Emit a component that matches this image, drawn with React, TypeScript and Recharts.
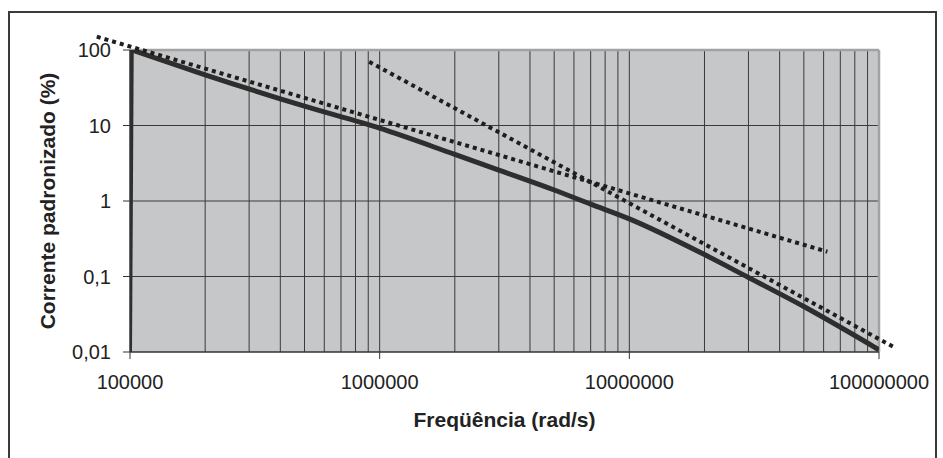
import {
  LineChart,
  Line,
  XAxis,
  YAxis,
  CartesianGrid,
  ReferenceLine,
} from 'recharts'

// Measured curve (solid): steep rise at the start, then the decay
const riseFreq = [100000, 101600]
const riseCurrent = [0.01, 100]
const freq = [
  101600, 200000, 500000, 1000000, 2000000, 3000000, 5000000, 7000000,
  10000000, 20000000, 30000000, 50000000, 100000000,
]
const current = [100, 47, 18, 9.2, 4.14, 2.57, 1.4, 0.91, 0.58, 0.195, 0.097, 0.04, 0.0107]

// Asymptotes (dotted), [start, end]
const asymA_x = [73600, 62100000]
const asymA_y = [150, 0.213]
const asymB_x = [908000, 117000000]
const asymB_y = [69.9, 0.0112]

const xTicks = [100000, 1000000, 10000000, 100000000]
const yTicks = [0.01, 0.1, 1, 10, 100]
const xGrid = [
  200000, 300000, 400000, 500000, 600000, 700000, 800000, 900000,
  1000000, 2000000, 3000000, 4000000, 5000000, 6000000, 7000000, 8000000, 9000000,
  10000000, 20000000, 30000000, 40000000, 50000000, 60000000, 70000000, 80000000, 90000000,
]
const yGrid = [0.1, 1, 10]

const xTitle = 'Freqüência (rad/s)'
const yTitle = 'Corrente padronizado (%)'

const riseData = riseFreq.map((x, i) => ({ x, y: riseCurrent[i] }))
const chartData = freq.map((x, i) => ({ x, y: current[i] }))

const FONT = '"Liberation Sans", Arial, sans-serif'
const TEXT = '#222'
const GRID = '#3a3a3a'
const CURVE = '#2e2e2e'

function XTitle({ viewBox }: any) {
  const cx = viewBox.x + viewBox.width / 2
  return (
    <text x={cx} y={viewBox.y + 75} textAnchor="middle" fontFamily={FONT} fontSize={21} fontWeight="bold" fill={TEXT}>
      {xTitle}
    </text>
  )
}

function YTitle({ viewBox }: any) {
  const cx = viewBox.x + 47
  const cy = viewBox.y + viewBox.height / 2
  return (
    <text
      x={cx}
      y={cy}
      dy="0.36em"
      transform={`rotate(-90, ${cx}, ${cy})`}
      textAnchor="middle"
      fontFamily={FONT}
      fontSize={21}
      fontWeight="bold"
      fill={TEXT}
    >
      {yTitle}
    </text>
  )
}

export default function App() {
  return (
    <div style={{ position: 'absolute', left: 0, top: 0, width: 943, height: 458, background: '#fff', overflow: 'hidden' }}>
      <div
        style={{
          position: 'absolute',
          left: 8,
          top: 11,
          width: 925,
          height: 470,
          border: '2px solid #3a3a3a',
        }}
      />
      <LineChart
        width={943}
        height={458}
        margin={{ top: 50, right: 64, bottom: 16, left: 0 }}
        style={{ position: 'absolute', left: 0, top: 0 }}
      >
        <CartesianGrid fill="#c6c7c9" fillOpacity={1} stroke="none" horizontal={false} vertical={false} />
        {xGrid.map((v) => (
          <ReferenceLine key={`vx${v}`} x={v} stroke={GRID} strokeWidth={1} />
        ))}
        {yGrid.map((v) => (
          <ReferenceLine key={`hy${v}`} y={v} stroke={GRID} strokeWidth={1} />
        ))}
        <XAxis
          type="number"
          dataKey="x"
          scale="log"
          domain={[100000, 100000000]}
          allowDataOverflow
          ticks={xTicks}
          tickFormatter={(v: number) => String(v)}
          height={90}
          tickSize={7}
          tickMargin={16}
          axisLine={{ stroke: '#333', strokeWidth: 1.5 }}
          tickLine={{ stroke: '#333' }}
          tick={{ fontFamily: FONT, fontSize: 20, fill: TEXT }}
          label={<XTitle />}
        />
        <YAxis
          type="number"
          dataKey="y"
          scale="log"
          domain={[0.01, 100]}
          allowDataOverflow
          ticks={yTicks}
          tickFormatter={(v: number) => String(v).replace('.', ',')}
          width={130}
          tickSize={7}
          tickMargin={12}
          axisLine={{ stroke: '#333', strokeWidth: 1.5 }}
          tickLine={{ stroke: '#333' }}
          tick={{ fontFamily: FONT, fontSize: 20, fill: TEXT }}
          label={<YTitle />}
        />
        <ReferenceLine y={100} stroke="#a2a2a2" strokeWidth={2.5} ifOverflow="visible" />
        <ReferenceLine x={100000000} stroke="#a2a2a2" strokeWidth={2.5} ifOverflow="visible" />
        <Line
          data={riseData}
          dataKey="y"
          type="linear"
          stroke={CURVE}
          strokeWidth={4}
          dot={false}
          isAnimationActive={false}
        />
        <Line
          data={chartData}
          dataKey="y"
          type="monotone"
          stroke={CURVE}
          strokeWidth={5}
          dot={false}
          isAnimationActive={false}
        />
        <ReferenceLine
          segment={[
            { x: asymA_x[0], y: asymA_y[0] },
            { x: asymA_x[1], y: asymA_y[1] },
          ]}
          stroke="#1e1e1e"
          strokeWidth={4}
          strokeDasharray="4 4"
          ifOverflow="visible"
        />
        <ReferenceLine
          segment={[
            { x: asymB_x[0], y: asymB_y[0] },
            { x: asymB_x[1], y: asymB_y[1] },
          ]}
          stroke="#1e1e1e"
          strokeWidth={4}
          strokeDasharray="4 4"
          ifOverflow="visible"
        />
      </LineChart>
    </div>
  )
}
